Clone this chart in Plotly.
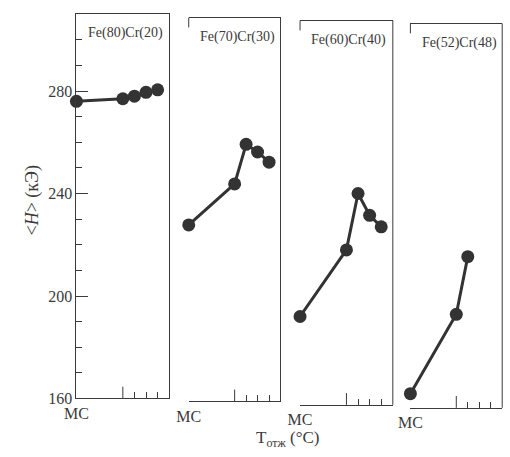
import plotly.graph_objects as go

# ---- data ----
panel_names = ["Fe(80)Cr(20)", "Fe(70)Cr(30)", "Fe(60)Cr(40)", "Fe(52)Cr(48)"]
x_p1 = [0, 4, 5, 6, 7]
h_p1 = [276, 277, 278, 279.5, 280.5]
x_p2 = [0, 4, 5, 6, 7]
h_p2 = [229, 245, 260.5, 257.5, 253.5]
x_p3 = [0, 4, 5, 6, 7]
h_p3 = [194.5, 220.5, 242.5, 234, 229.5]
x_p4 = [0, 4, 5]
h_p4 = [165.5, 196.5, 219]
xs = [x_p1, x_p2, x_p3, x_p4]
hs = [h_p1, h_p2, h_p3, h_p4]

y_major = [160, 200, 240, 280]
y_minor = [170, 180, 190, 210, 220, 230, 250, 260, 270, 290, 300]
x_labeled = [0]
x_labeled_text = ["МС"]
x_long_tick = 4
x_minor = [5, 6, 7]
X_RANGE = [0, 8]
Y_RANGE = [160, 310]

W, H = 510, 457
FONT = "Liberation Serif, Times New Roman, serif"
INK = "#3a3a3a"
DOT = "#333333"

# panel boxes in pixels (left, right), (top, bottom)
px_x = [(66, 161), (181, 275), (295, 390), (408, 502)]
px_y = [(14.5, 406.5), (18, 409.5), (21, 413), (24, 416)]

fig = go.Figure()
shapes = []
annotations = []
for i in range(4):
    n = "" if i == 0 else str(i + 1)
    xa, ya = "x" + n, "y" + n
    fig.add_trace(go.Scatter(
        x=xs[i], y=hs[i], xaxis=xa, yaxis=ya, mode="lines+markers",
        line=dict(color=DOT, width=3),
        marker=dict(color=DOT, size=13),
        cliponaxis=False, showlegend=False))
    xd = [px_x[i][0] / W, px_x[i][1] / W]
    yd = [1 - px_y[i][1] / H, 1 - px_y[i][0] / H]
    hpx = px_y[i][1] - px_y[i][0]
    xkey = "xaxis" + n
    ykey = "yaxis" + n
    fig.layout[xkey] = dict(
        domain=xd, range=X_RANGE, anchor=ya, showgrid=False, zeroline=False,
        showline=True, linecolor=INK, linewidth=1, mirror=True,
        tickmode="array", tickvals=x_labeled, ticktext=x_labeled_text,
        ticks="inside", ticklen=12, tickcolor=INK, tickwidth=1,
        minor=dict(tickvals=x_minor, ticks="inside", ticklen=6,
                   tickcolor=INK, tickwidth=1),
        tickfont=dict(family=FONT, size=16, color=INK), fixedrange=True)
    # the longer unlabeled tick
    fx = (x_long_tick - X_RANGE[0]) / (X_RANGE[1] - X_RANGE[0])
    shapes.append(dict(type="line", xref=xa + " domain", yref=ya + " domain",
                       x0=fx, x1=fx, y0=0, y1=12 / hpx,
                       line=dict(color=INK, width=1)))
    if i == 0:
        fig.layout[ykey] = dict(
            domain=yd, range=Y_RANGE, anchor=xa, showgrid=False,
            zeroline=False, showline=True, linecolor=INK, linewidth=1,
            mirror=True, tickmode="array", tickvals=y_major,
            ticks="inside", ticklen=12, tickcolor=INK, tickwidth=1,
            minor=dict(tickvals=y_minor, ticks="inside", ticklen=6,
                       tickcolor=INK, tickwidth=1),
            tickfont=dict(family=FONT, size=16, color=INK), fixedrange=True)
    else:
        fig.layout[ykey] = dict(
            domain=yd, range=Y_RANGE, anchor=xa, showgrid=False,
            zeroline=False, showline=False, showticklabels=False,
            ticks="", fixedrange=True)
        shapes.append(dict(type="line", xref=xa + " domain", yref=ya + " domain",
                           x0=1, x1=1, y0=0, y1=1,
                           line=dict(color=INK, width=1)))
        shapes.append(dict(type="line", xref=xa + " domain", yref=ya + " domain",
                           x0=0, x1=0, y0=1, y1=1 - 10 / hpx,
                           line=dict(color=INK, width=1)))
    annotations.append(dict(
        text=panel_names[i], xref=xa + " domain", yref=ya + " domain",
        x=0.1, y=0.95, xanchor="left", yanchor="middle", showarrow=False,
        font=dict(family=FONT, size=14, color=INK)))

annotations.append(dict(
    text="&lt;<i>H</i>&gt; (кЭ)", xref="paper", yref="paper",
    x=21 / W, y=1 - 205 / H, xanchor="center", yanchor="middle",
    textangle=-90, showarrow=False,
    font=dict(family=FONT, size=18, color=INK)))
annotations.append(dict(
    text="T<sub>отж</sub> (°C)", xref="paper", yref="paper",
    x=282 / W, y=1 - 448 / H, xanchor="center", yanchor="middle",
    showarrow=False, font=dict(family=FONT, size=17, color=INK)))

fig.update_layout(
    width=W, height=H, margin=dict(l=0, r=0, t=0, b=0),
    paper_bgcolor="white", plot_bgcolor="white",
    shapes=shapes, annotations=annotations, showlegend=False)

fig.write_html("out.html", config={"displayModeBar": False})
